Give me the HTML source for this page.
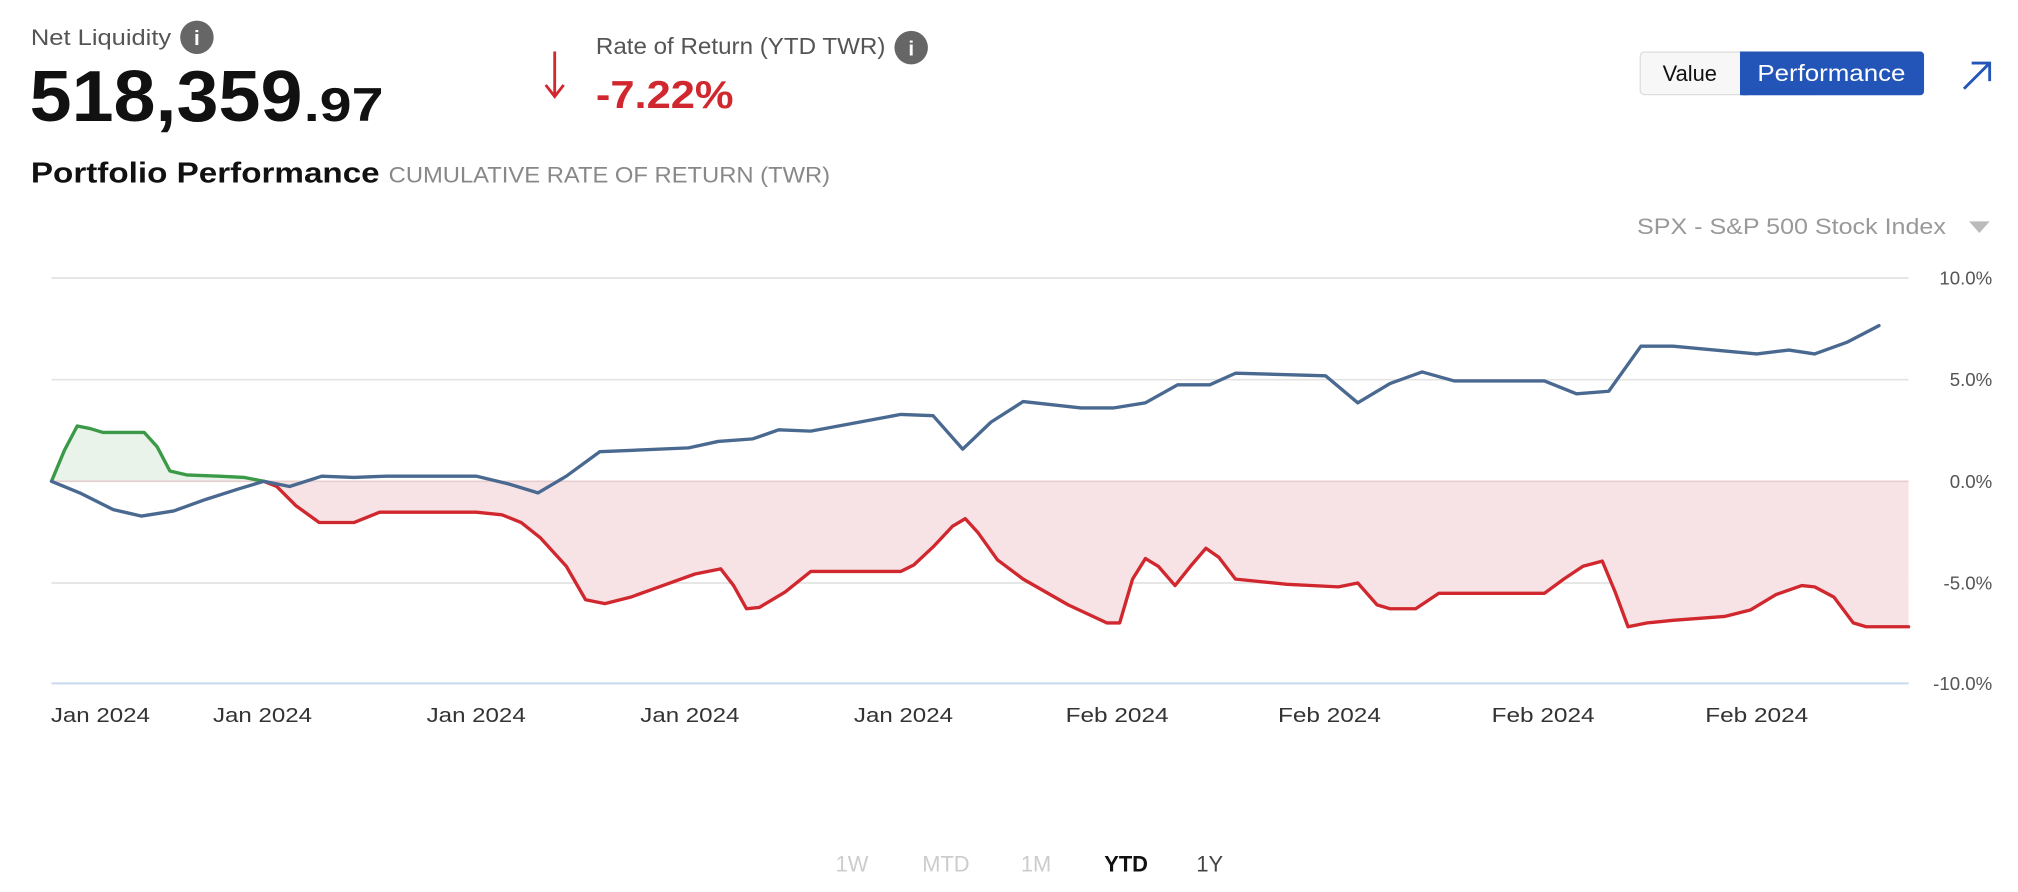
<!DOCTYPE html>
<html><head><meta charset="utf-8"><style>
html,body{margin:0;padding:0;background:#fff;}
svg{display:block;}
text{font-family:"Liberation Sans",sans-serif;}
</style></head><body>
<svg width="2018" height="892" viewBox="0 0 1568 693.1" xmlns="http://www.w3.org/2000/svg">
<rect width="1568" height="693.1" fill="#fff"/>
<!-- header -->
<text x="24" y="35" font-size="17.5" fill="#555" textLength="109" lengthAdjust="spacingAndGlyphs">Net Liquidity</text>
<circle cx="153" cy="29" r="13" fill="#666"/>
<text x="153" y="35" font-size="16" font-weight="bold" fill="#fff" text-anchor="middle">i</text>
<text x="23" y="94" font-size="56" font-weight="bold" fill="#111" textLength="212" lengthAdjust="spacingAndGlyphs">518,359</text>
<text x="236" y="94" font-size="37" font-weight="bold" fill="#111" textLength="62" lengthAdjust="spacingAndGlyphs">.97</text>
<g stroke="#d0282e" stroke-width="2.2" fill="none"><line x1="431" y1="40" x2="431" y2="74"/><polyline points="424,66 431,75 438,66"/></g>
<text x="463" y="42" font-size="18" fill="#555" textLength="225" lengthAdjust="spacingAndGlyphs">Rate of Return (YTD TWR)</text>
<circle cx="708" cy="37" r="13" fill="#666"/>
<text x="708" y="43" font-size="16" font-weight="bold" fill="#fff" text-anchor="middle">i</text>
<text x="463" y="84" font-size="30" font-weight="bold" fill="#d0282e" textLength="107" lengthAdjust="spacingAndGlyphs">-7.22%</text>
<text x="24" y="142" font-size="22.5" font-weight="bold" fill="#111" textLength="271" lengthAdjust="spacingAndGlyphs">Portfolio Performance</text>
<text x="302" y="142" font-size="17" fill="#888" textLength="343" lengthAdjust="spacingAndGlyphs">CUMULATIVE RATE OF RETURN (TWR)</text>
<!-- buttons -->
<rect x="1274.5" y="40.5" width="140" height="33" rx="3" fill="#f7f7f7" stroke="#ddd"/>
<rect x="1352" y="40" width="143" height="34" rx="3" fill="#2355b8"/>
<rect x="1352" y="40" width="6" height="34" fill="#2355b8"/>
<text x="1313" y="63" font-size="17" fill="#111" text-anchor="middle">Value</text>
<text x="1423" y="63" font-size="18" fill="#fff" text-anchor="middle" textLength="115" lengthAdjust="spacingAndGlyphs">Performance</text>
<g stroke="#2355b8" stroke-width="2.2" fill="none"><line x1="1526" y1="69" x2="1546" y2="49"/><polyline points="1532,49 1546,49 1546,63"/></g>
<text x="1272" y="182" font-size="17" fill="#999" textLength="240" lengthAdjust="spacingAndGlyphs">SPX - S&amp;P 500 Stock Index</text>
<polygon points="1530,172 1546,172 1538,181" fill="#bbb"/>
<!-- grid -->
<g stroke="#e3e3e3" stroke-width="1.3">
<line x1="40" y1="216" x2="1483" y2="216"/><line x1="40" y1="295" x2="1483" y2="295"/>
<line x1="40" y1="453" x2="1483" y2="453"/></g>
<line x1="40" y1="531" x2="1483" y2="531" stroke="#c9d8ec" stroke-width="1.5"/>
<g font-size="14.5" fill="#555" text-anchor="end">
<text x="1548" y="221">10.0%</text><text x="1548" y="300">5.0%</text><text x="1548" y="379">0.0%</text>
<text x="1548" y="458">-5.0%</text><text x="1548" y="536">-10.0%</text></g>
<!-- fills -->
<polygon fill="#f7e3e5" points="205,374 215,378 230,393 248,406 275,406 295,398 300,398 370,398 390,400 405,406 420,418 440,440 455,466 470,469 490,464 515,455 540,446 560,442 570,455 580,473 590,472 610,460 630,444 700,444 710,439 725,425 740,409 750,403 760,414 775,435 795,450 830,470 860,484 870,484 880,450 890,434 900,440 913,455 925,440 937,426 947,433 960,450 1000,454 1040,456 1055,453 1070,470 1080,473 1100,473 1118,461 1200,461 1215,450 1230,440 1245,436 1255,460 1265,487 1280,484 1300,482 1340,479 1360,474 1380,462 1400,455 1410,456 1425,464 1440,484 1450,487 1483,487 1483,374"/>
<polygon fill="#eaf3ea" points="40,374 50,350 60,331 70,333 80,336 112,336 122,347 132,366 145,369 170,370 190,371 205,374"/>
<line x1="40" y1="374" x2="1483" y2="374" stroke="#e6cdd0" stroke-width="1.3"/>
<g fill="none" stroke-width="2.6" stroke-linejoin="round" stroke-linecap="round">
<polyline stroke="#3a9a48" points="40,374 50,350 60,331 70,333 80,336 112,336 122,347 132,366 145,369 170,370 190,371 205,374"/>
<polyline stroke="#d0282e" points="205,374 215,378 230,393 248,406 275,406 295,398 300,398 370,398 390,400 405,406 420,418 440,440 455,466 470,469 490,464 515,455 540,446 560,442 570,455 580,473 590,472 610,460 630,444 700,444 710,439 725,425 740,409 750,403 760,414 775,435 795,450 830,470 860,484 870,484 880,450 890,434 900,440 913,455 925,440 937,426 947,433 960,450 1000,454 1040,456 1055,453 1070,470 1080,473 1100,473 1118,461 1200,461 1215,450 1230,440 1245,436 1255,460 1265,487 1280,484 1300,482 1340,479 1360,474 1380,462 1400,455 1410,456 1425,464 1440,484 1450,487 1483,487"/>
<polyline stroke="#4a6990" points="40,374 62,383 88,396 110,401 135,397 160,388 185,380 205,374 225,378 250,370 275,371 300,370 370,370 395,376 418,383 440,370 466,351 535,348 558,343 585,341 605,334 630,335 700,322 725,323 748,349 770,328 795,312 840,317 865,317 890,313 915,299 940,299 960,290 1030,292 1055,313 1080,298 1105,289 1130,296 1200,296 1225,306 1250,304 1275,269 1300,269 1365,275 1390,272 1410,275 1435,266 1460,253"/>
</g>
<!-- x labels -->
<g font-size="16" fill="#333" text-anchor="middle">
<text x="78" y="561" textLength="77" lengthAdjust="spacingAndGlyphs">Jan 2024</text><text x="204" y="561" textLength="77" lengthAdjust="spacingAndGlyphs">Jan 2024</text><text x="370" y="561" textLength="77" lengthAdjust="spacingAndGlyphs">Jan 2024</text>
<text x="536" y="561" textLength="77" lengthAdjust="spacingAndGlyphs">Jan 2024</text><text x="702" y="561" textLength="77" lengthAdjust="spacingAndGlyphs">Jan 2024</text><text x="868" y="561" textLength="80" lengthAdjust="spacingAndGlyphs">Feb 2024</text>
<text x="1033" y="561" textLength="80" lengthAdjust="spacingAndGlyphs">Feb 2024</text><text x="1199" y="561" textLength="80" lengthAdjust="spacingAndGlyphs">Feb 2024</text><text x="1365" y="561" textLength="80" lengthAdjust="spacingAndGlyphs">Feb 2024</text></g>
<g font-size="17" text-anchor="middle">
<text x="662" y="677" fill="#ccc">1W</text><text x="735" y="677" fill="#ccc">MTD</text><text x="805" y="677" fill="#ccc">1M</text>
<text x="875" y="677" fill="#111" font-weight="bold">YTD</text><text x="940" y="677" fill="#444">1Y</text></g>
</svg>
</body></html>
